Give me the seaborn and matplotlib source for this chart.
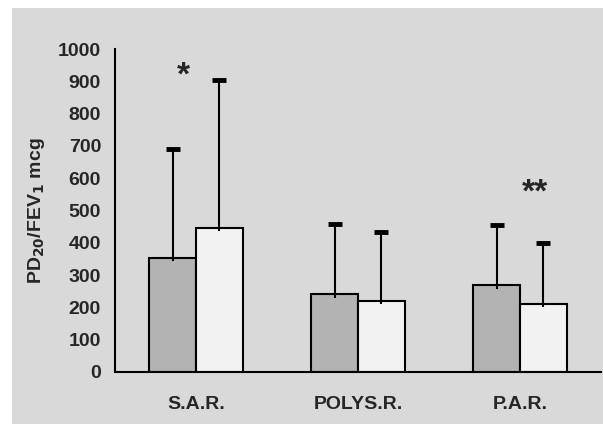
import matplotlib
matplotlib.use("Agg")
import matplotlib.pyplot as plt
import pandas as pd
import seaborn as sns
from matplotlib.patches import Rectangle

# data
categories = ["S.A.R.", "POLYS.R.", "P.A.R."]
groups = ["A", "B"]
means_a = [353, 240, 268]
means_b = [447, 220, 210]
sd_a = [337, 218, 187]
sd_b = [458, 213, 190]
stars = ["*", "", "**"]

df = pd.DataFrame({
    "category": categories * 2,
    "group": [groups[0]] * 3 + [groups[1]] * 3,
    "value": means_a + means_b,
    "sd": sd_a + sd_b,
})

sns.set_style("white")
plt.rcParams["font.family"] = ["Liberation Sans", "DejaVu Sans"]
plt.rcParams["font.weight"] = "bold"
plt.rcParams["mathtext.default"] = "bf"

fig = plt.figure(figsize=(6.03, 4.24), dpi=100)
fig.patch.set_facecolor("white")
# gray panel behind the chart
fig.patches.append(Rectangle((12 / 603, 0), 1, 1 - 8 / 424, transform=fig.transFigure,
                             facecolor="#d9d9d9", edgecolor="none", zorder=-10))

ax = fig.add_axes([115 / 603, 52 / 424, 486 / 603, 323 / 424])
ax.set_facecolor("none")

sns.barplot(data=df, x="category", y="value", hue="group", order=categories,
            hue_order=groups, palette=["#b3b3b3", "#f2f2f2"], width=0.58,
            edgecolor="black", linewidth=1.5, dodge=True, errorbar=None,
            legend=False, ax=ax)

# upper-only error bars, placed on the bars seaborn drew
for i, g in enumerate(groups):
    sub = df[df["group"] == g].set_index("category").loc[categories]
    bars = ax.patches[i * len(categories):(i + 1) * len(categories)]
    xs = [b.get_x() + b.get_width() / 2 for b in bars]
    cont = ax.errorbar(xs, sub["value"] - 10, yerr=[[0] * len(xs), sub["sd"] + 10], fmt="none",
                       ecolor="black", elinewidth=1.5, capsize=5, capthick=3.5, zorder=1)
    caps = cont.lines[1]
    caps[0].set_visible(False)

# significance marks
for j, s in enumerate(stars):
    if not s:
        continue
    if j == 0:
        ax.text(j - 0.08, 915, s, ha="center", va="center", fontsize=24, fontweight="bold")
    else:
        ax.text(j + 0.09, 555, s, ha="center", va="center", fontsize=24, fontweight="bold")

ax.set_ylim(0, 1000)
ax.set_xlim(-0.5, 2.5)
ax.set_yticks(range(0, 1001, 100))
ax.set_yticklabels([str(v) for v in range(0, 1001, 100)], fontsize=14, fontweight="bold")
ax.set_xticks([0, 1, 2])
ax.set_xticklabels(categories, fontsize=14, fontweight="bold")
ax.set_xticks([-0.5, 0.5, 1.5, 2.5], minor=True)
ax.tick_params(axis="x", which="major", length=0, pad=17)
ax.tick_params(axis="x", which="minor", length=5, width=1.5, direction="out")
ax.tick_params(axis="y", length=5, width=1.5, direction="out", pad=5)
ax.set_xlabel("")
ax.set_ylabel("PD$_{20}$/FEV$_{1}$ mcg", fontsize=14, fontweight="bold", labelpad=8)

sns.despine(ax=ax)
for sp in ["left", "bottom"]:
    ax.spines[sp].set_linewidth(1.5)
    ax.spines[sp].set_color("black")

fig.savefig("out.png", dpi=100, facecolor=fig.get_facecolor())
